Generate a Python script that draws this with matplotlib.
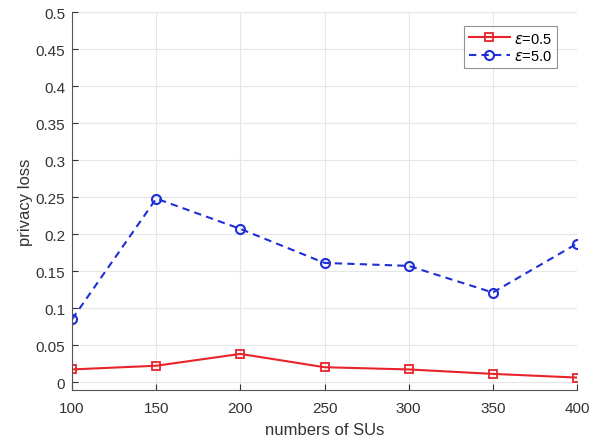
import numpy as np
import matplotlib.pyplot as plt

plt.rcParams['font.family'] = ['Liberation Sans', 'DejaVu Sans']

# privacy loss vs. number of secondary users
num_su = [100, 150, 200, 250, 300, 350, 400]
loss_eps_05 = [0.017, 0.022, 0.038, 0.020, 0.017, 0.011, 0.006]
loss_eps_50 = [0.085, 0.248, 0.207, 0.161, 0.157, 0.121, 0.187]
y_ticks = [0, 0.05, 0.1, 0.15, 0.2, 0.25, 0.3, 0.35, 0.4, 0.45, 0.5]
y_tick_labels = ['0', '0.05', '0.1', '0.15', '0.2', '0.25', '0.3', '0.35', '0.4', '0.45', '0.5']

fig = plt.figure(figsize=(6.06, 4.39), dpi=100)
ax = fig.add_axes([0.119, 0.109, 0.833, 0.861])

ax.plot(num_su, loss_eps_05, '-s', color='#e8242a', lw=1.5, ms=5.5,
        mfc='none', mew=1.3, label=r'$\epsilon$=0.5')
ax.plot(num_su, loss_eps_50, '--o', color='#1f2fd8', lw=1.5, ms=6.5,
        mfc='none', mew=1.5, dashes=(3.5, 2.5), label=r'$\epsilon$=5.0')

ax.set_xlim(100, 400)
ax.set_ylim(-0.011, 0.5)
ax.set_xticks(num_su)
ax.set_yticks(y_ticks)
ax.set_yticklabels(y_tick_labels)
ax.tick_params(direction='in', labelsize=11, colors='#333333', length=4, pad=5)
ax.tick_params(axis='x', pad=8)
ax.grid(True, color='#e6e6e6', lw=0.8)
ax.set_axisbelow(True)
for s in ['top', 'right']:
    ax.spines[s].set_visible(False)
for s in ['left', 'bottom']:
    ax.spines[s].set_color('#555555')

ax.set_xlabel('numbers of SUs', fontsize=12, color='#333333', labelpad=5)
ax.set_ylabel('privacy loss', fontsize=12, color='#333333', labelpad=2)

leg = ax.legend(loc='upper right', bbox_to_anchor=(0.967, 0.97), fontsize=10.5,
                fancybox=False, edgecolor='#777777', handlelength=2.8,
                handletextpad=0.3, borderpad=0.35, labelspacing=0.25,
                borderaxespad=0.2)
leg.get_frame().set_linewidth(0.8)

fig.savefig('out.png', dpi=100)
